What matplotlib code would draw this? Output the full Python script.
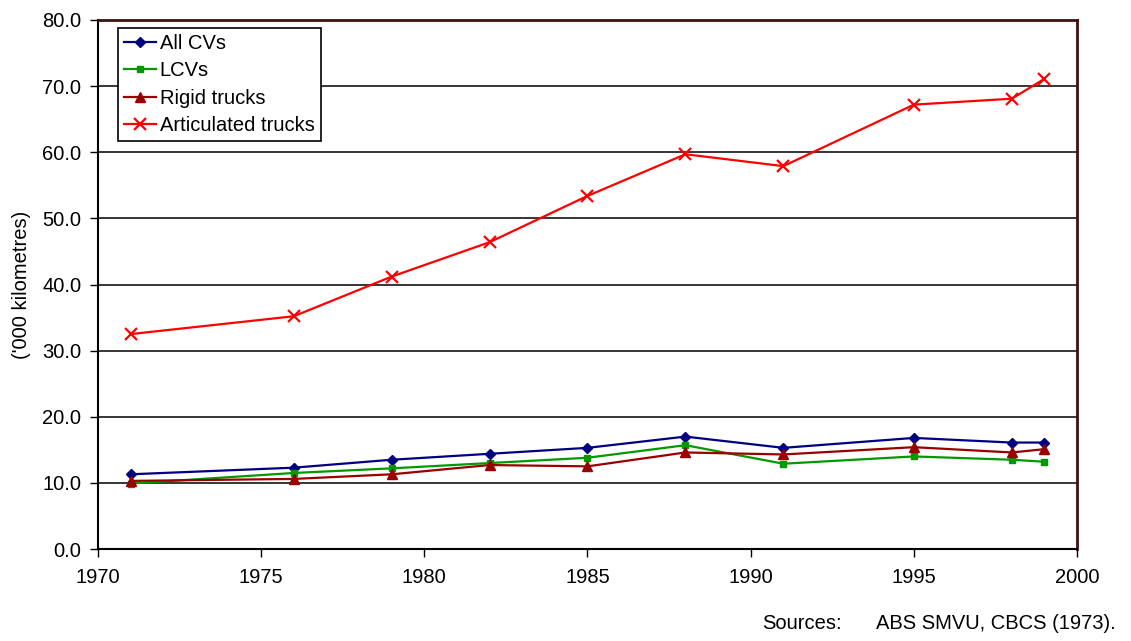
import matplotlib
matplotlib.use("Agg")
import matplotlib.pyplot as plt
from matplotlib.ticker import FormatStrFormatter

plt.rcParams['font.family'] = ['Liberation Sans', 'DejaVu Sans']

years = [1971, 1976, 1979, 1982, 1985, 1988, 1991, 1995, 1998, 1999]
all_cvs = [11.3, 12.3, 13.5, 14.4, 15.3, 17.0, 15.3, 16.8, 16.1, 16.1]
lcvs = [9.9, 11.5, 12.2, 13.0, 13.8, 15.7, 12.9, 14.0, 13.5, 13.2]
rigid = [10.3, 10.6, 11.3, 12.7, 12.5, 14.6, 14.3, 15.4, 14.6, 15.1]
articulated = [32.5, 35.2, 41.2, 46.4, 53.4, 59.7, 57.9, 67.2, 68.1, 71.1]

FS = 14.5

fig = plt.figure(figsize=(11.31, 6.41), dpi=100)
ax = fig.add_axes([0.0866, 0.1435, 0.8657, 0.8253])

ax.plot(years, all_cvs, color='#000080', marker='D', markersize=5, lw=1.6, label='All CVs')
ax.plot(years, lcvs, color='#009900', marker='s', markersize=5, markerfacecolor='#009900',
        markeredgecolor='#009900', lw=1.6, label='LCVs')
ax.plot(years, rigid, color='#990000', marker='^', markersize=7, lw=1.6, label='Rigid trucks')
ax.plot(years, articulated, color='#ff0000', marker='x', markersize=8, mew=1.6, lw=1.6,
        label='Articulated trucks')

ax.set_xlim(1970, 2000)
ax.set_ylim(0, 80)
ax.set_xticks(range(1970, 2001, 5))
ax.set_yticks(range(0, 81, 10))
ax.yaxis.set_major_formatter(FormatStrFormatter('%.1f'))
ax.grid(axis='y', color='black', lw=1.1)
ax.set_axisbelow(True)
ax.tick_params(axis='both', labelsize=FS, direction='out', length=6, width=1,
               color='black')
ax.tick_params(axis='x', pad=8)
ax.tick_params(axis='y', pad=6)

for side in ('left', 'bottom'):
    ax.spines[side].set_color('black')
    ax.spines[side].set_linewidth(1.5)
for side in ('top', 'right'):
    ax.spines[side].set_color('#3a1212')
    ax.spines[side].set_linewidth(2)

ax.set_ylabel("('000 kilometres)", fontsize=FS, labelpad=8)

leg = ax.legend(loc='upper left', bbox_to_anchor=(0.02, 0.985), fontsize=FS,
                frameon=True, fancybox=False, handlelength=1.6, handletextpad=0.2,
                borderpad=0.3, labelspacing=0.42, borderaxespad=0)
leg.get_frame().set_edgecolor('black')
leg.get_frame().set_linewidth(1.2)
leg.get_frame().set_alpha(1)

fig.text(762 / 1131, 0.012, 'Sources:', fontsize=FS, ha='left', va='bottom')
fig.text(876 / 1131, 0.012, 'ABS SMVU, CBCS (1973).', fontsize=FS, ha='left', va='bottom')

fig.savefig('out.png', dpi=100)
